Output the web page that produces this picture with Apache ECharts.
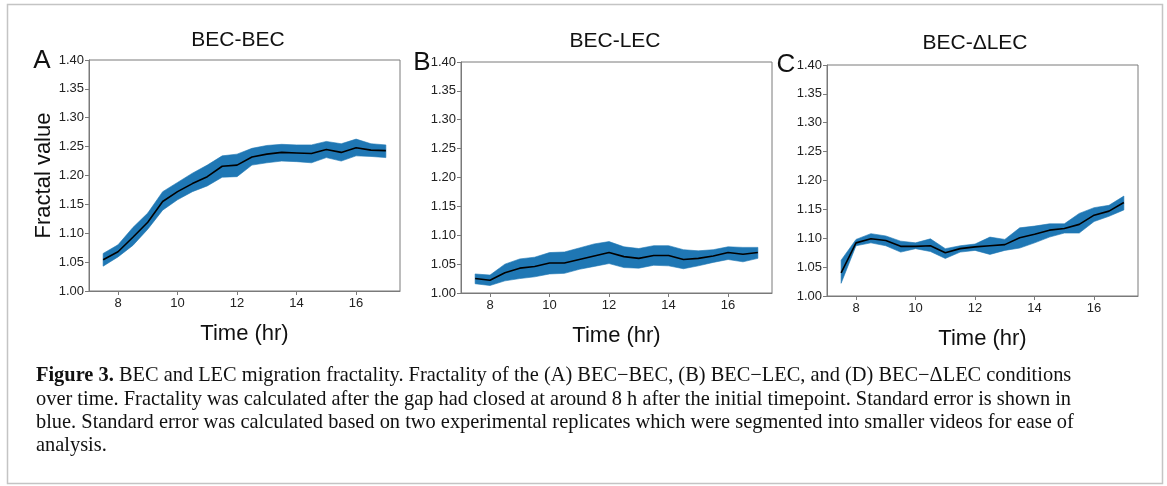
<!DOCTYPE html>
<html>
<head>
<meta charset="utf-8">
<title>Figure 3 - BEC and LEC migration fractality</title>
<script src="https://cdn.jsdelivr.net/npm/echarts@6/dist/echarts.min.js"></script>
<style>
  html, body { margin: 0; padding: 0; background: #fff; }
  #chart { width: 1167px; height: 486px; }
</style>
</head>
<body>
<div id="chart"></div>
<script>
// time points (hr)
const hours = [7.5, 8, 8.5, 9, 9.5, 10, 10.5, 11, 11.5, 12, 12.5, 13, 13.5, 14, 14.5, 15, 15.5, 16, 16.5, 17]
const xTicks = [8, 10, 12, 14, 16]

// A: BEC-BEC
const becBecMean  = [1.054, 1.068, 1.093, 1.119, 1.155, 1.172, 1.186, 1.198, 1.216, 1.218, 1.232, 1.237, 1.240, 1.239, 1.238, 1.245, 1.240, 1.248, 1.244, 1.243]
const becBecUpper = [1.065, 1.080, 1.110, 1.135, 1.172, 1.188, 1.204, 1.218, 1.234, 1.237, 1.247, 1.252, 1.254, 1.253, 1.253, 1.259, 1.255, 1.263, 1.255, 1.253]
const becBecLower = [1.043, 1.059, 1.079, 1.107, 1.140, 1.158, 1.172, 1.182, 1.197, 1.198, 1.218, 1.222, 1.225, 1.224, 1.222, 1.231, 1.225, 1.234, 1.233, 1.231]

// B: BEC-LEC
const becLecMean  = [1.025, 1.022, 1.035, 1.043, 1.046, 1.052, 1.052, 1.058, 1.064, 1.070, 1.063, 1.060, 1.065, 1.065, 1.058, 1.060, 1.064, 1.070, 1.067, 1.070]
const becLecUpper = [1.033, 1.031, 1.050, 1.059, 1.062, 1.070, 1.071, 1.078, 1.085, 1.089, 1.080, 1.077, 1.082, 1.082, 1.075, 1.073, 1.075, 1.080, 1.079, 1.079]
const becLecLower = [1.016, 1.013, 1.021, 1.025, 1.028, 1.033, 1.034, 1.041, 1.046, 1.051, 1.044, 1.043, 1.048, 1.047, 1.042, 1.047, 1.053, 1.058, 1.054, 1.060]

// C: BEC-ΔLEC
const becDlecMean  = [1.040, 1.092, 1.099, 1.096, 1.086, 1.086, 1.087, 1.075, 1.082, 1.085, 1.087, 1.089, 1.101, 1.107, 1.114, 1.117, 1.124, 1.140, 1.147, 1.162]
const becDlecUpper = [1.062, 1.098, 1.108, 1.104, 1.095, 1.092, 1.099, 1.082, 1.087, 1.090, 1.102, 1.098, 1.118, 1.121, 1.125, 1.125, 1.143, 1.153, 1.157, 1.173]
const becDlecLower = [1.022, 1.087, 1.092, 1.087, 1.076, 1.082, 1.077, 1.065, 1.076, 1.079, 1.072, 1.079, 1.083, 1.092, 1.102, 1.109, 1.109, 1.129, 1.138, 1.149]

const panels = [
  { title: 'BEC-BEC', letter: 'A', mean: becBecMean, upper: becBecUpper, lower: becBecLower,
    grid: { left: 89, top: 60, width: 311, height: 231 }, titleX: 238, titleY: 40, letterX: 42, letterY: 61 },
  { title: 'BEC-LEC', letter: 'B', mean: becLecMean, upper: becLecUpper, lower: becLecLower,
    grid: { left: 461, top: 62, width: 311, height: 231 }, titleX: 615, titleY: 41, letterX: 422, letterY: 63 },
  { title: 'BEC-\u0394LEC', letter: 'C', mean: becDlecMean, upper: becDlecUpper, lower: becDlecLower,
    grid: { left: 827, top: 65, width: 311, height: 231 }, titleX: 975, titleY: 43, letterX: 786, letterY: 65 }
]

const band = '#1f77b4'
const spine = '#7a7a7a'
const sans = "'Liberation Sans', Arial, sans-serif"
const serif = "'Liberation Serif', 'Times New Roman', serif"

const chart = echarts.init(document.getElementById('chart'), null, { renderer: 'canvas' })

const grids = []
const xAxes = []
const yAxes = []
const series = []
const graphic = [
  { type: 'rect', shape: { x: 7.5, y: 4.5, width: 1155, height: 479 },
    style: { fill: 'none', stroke: '#c4c4c4', lineWidth: 1.5 }, silent: true }
]

panels.forEach((p, i) => {
  grids.push(Object.assign({ show: true, borderColor: spine, borderWidth: 1, backgroundColor: '#fff' }, p.grid))
  xAxes.push({
    gridIndex: i,
    type: 'value',
    min: 7.025,
    max: 17.475,
    name: 'Time (hr)',
    nameLocation: 'middle',
    nameGap: 32,
    nameTextStyle: { fontFamily: sans, fontSize: 22, color: '#111' },
    axisLine: { lineStyle: { color: spine } },
    axisTick: { customValues: xTicks, length: 4, lineStyle: { color: spine } },
    axisLabel: { customValues: xTicks, fontFamily: sans, fontSize: 13, color: '#222', margin: 6 },
    splitLine: { show: false }
  })
  yAxes.push({
    gridIndex: i,
    type: 'value',
    min: 1.0,
    max: 1.4,
    interval: 0.05,
    name: i === 0 ? 'Fractal value' : '',
    nameLocation: 'middle',
    nameGap: 34,
    nameTextStyle: { fontFamily: sans, fontSize: 22, color: '#111' },
    axisLine: { show: true, lineStyle: { color: spine } },
    axisTick: { show: true, length: 4, lineStyle: { color: spine } },
    axisLabel: { fontFamily: sans, fontSize: 13, color: '#222', margin: 5,
      formatter: v => v.toFixed(2) },
    splitLine: { show: false }
  })

  // standard error band, one polygon through the axis scales
  series.push({
    type: 'custom',
    xAxisIndex: i,
    yAxisIndex: i,
    silent: true,
    data: hours.map((h, k) => [h, p.lower[k], p.upper[k]]),
    encode: { x: 0, y: [1, 2] },
    renderItem: (params, api) => {
      if (params.dataIndex !== 0) return null
      const top = hours.map((h, k) => api.coord([h, p.upper[k]]))
      const bottom = hours.map((h, k) => api.coord([h, p.lower[k]])).reverse()
      return {
        type: 'polygon',
        shape: { points: top.concat(bottom) },
        style: { fill: band, stroke: band, lineWidth: 0.6 }
      }
    },
    z: 1
  })
  series.push({
    type: 'line',
    xAxisIndex: i,
    yAxisIndex: i,
    data: hours.map((h, k) => [h, p.mean[k]]),
    symbol: 'none',
    lineStyle: { color: '#000', width: 1.6 },
    silent: true,
    z: 3
  })

  graphic.push({
    type: 'text', x: p.titleX, y: p.titleY, silent: true,
    style: { text: p.title, font: '21px ' + sans, fill: '#111',
      textAlign: 'center', textVerticalAlign: 'middle', align: 'center', verticalAlign: 'middle' }
  })
  graphic.push({
    type: 'text', x: p.letterX, y: p.letterY, silent: true,
    style: { text: p.letter, font: '26px ' + sans, fill: '#111',
      textAlign: 'center', textVerticalAlign: 'middle', align: 'center', verticalAlign: 'middle' }
  })
})

// caption
const captionLines = [
  '{b|Figure 3.} BEC and LEC migration fractality. Fractality of the (A) BEC\u2212BEC, (B) BEC\u2212LEC, and (D) BEC\u2212\u0394LEC conditions',
  'over time. Fractality was calculated after the gap had closed at around 8 h after the initial timepoint. Standard error is shown in',
  'blue. Standard error was calculated based on two experimental replicates which were segmented into smaller videos for ease of',
  'analysis.'
]
captionLines.forEach((line, k) => {
  graphic.push({
    type: 'text', x: 36, y: 376 + k * 23.3, silent: true,
    style: {
      text: line, font: '20.4px ' + serif, fill: '#111',
      textVerticalAlign: 'middle', verticalAlign: 'middle',
      rich: { b: { fontFamily: serif, fontSize: 20.4, fontWeight: 'bold', fill: '#111' } }
    }
  })
})

chart.setOption({
  backgroundColor: '#fff',
  animation: false,
  grid: grids,
  xAxis: xAxes,
  yAxis: yAxes,
  series: series,
  graphic: graphic
})
</script>
</body>
</html>
